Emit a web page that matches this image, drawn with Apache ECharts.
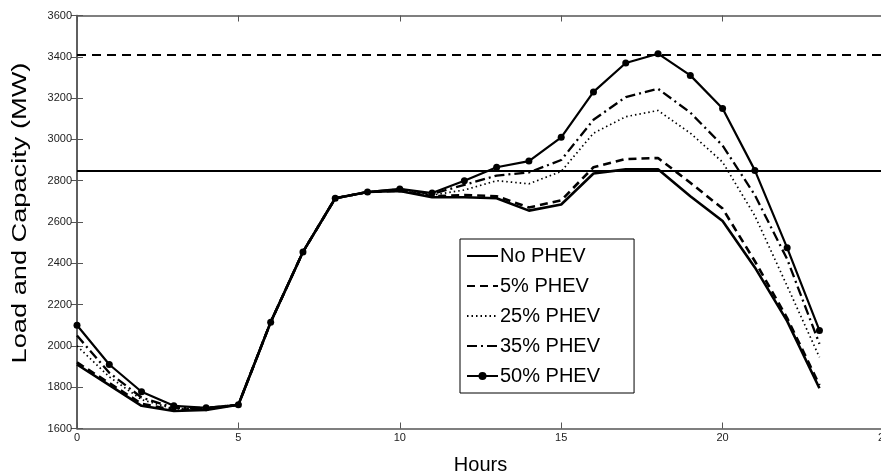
<!DOCTYPE html>
<html><head><meta charset="utf-8">
<script src="https://cdn.jsdelivr.net/npm/echarts@6/dist/echarts.min.js"></script>
<style>html,body{margin:0;padding:0;background:#fff}#c{width:881px;height:475px}</style>
</head><body><div id="c"></div>
<script>
const hours = [0,1,2,3,4,5,6,7,8,9,10,11,12,13,14,15,16,17,18,19,20,21,22,23];
const noPHEV = [1910,1810,1710,1685,1690,1715,2115,2455,2715,2745,2750,2720,2720,2715,2655,2685,2835,2855,2855,2725,2605,2380,2120,1795];
const phev5  = [1920,1820,1720,1690,1695,1715,2115,2455,2715,2745,2752,2725,2730,2725,2670,2705,2865,2905,2910,2790,2665,2410,2135,1810];
const phev25 = [2000,1850,1740,1695,1698,1715,2115,2455,2715,2745,2755,2730,2755,2800,2785,2845,3030,3110,3140,3030,2890,2630,2290,1945];
const phev35 = [2050,1870,1750,1700,1700,1715,2115,2455,2715,2745,2758,2735,2780,2825,2840,2900,3095,3205,3245,3130,2970,2730,2420,2010];
const phev50 = [2100,1910,1778,1710,1700,1715,2115,2455,2715,2745,2760,2740,2800,2865,2895,3010,3230,3370,3415,3310,3150,2850,2475,2075];
const capacitySolid = 2850;
const capacityDashed = 3410;
const seriesNames = ['No PHEV','5% PHEV','25% PHEV','35% PHEV','50% PHEV'];
const xTitle = 'Hours';
const yTitle = 'Load and Capacity (MW)';

const pair = arr => hours.map((h,i)=>[h, arr[i]]);
const tickFont = {fontFamily:'Liberation Sans, Arial, sans-serif', fontSize:11, color:'#222', formatter: v => String(v)};
const axLine = {show:true, lineStyle:{color:'#555', width:1.5}};
const tick = {show:true, inside:true, length:6, lineStyle:{color:'#555', width:1}};
const chart = echarts.init(document.getElementById('c'));
chart.setOption({
  animation:false,
  backgroundColor:'#fff',
  grid:{left:77, right:-3, top:15.5, bottom:46.5, containLabel:false, outerBoundsMode:'none'},
  xAxis:[
    {type:'value', min:0, max:25, interval:5, position:'bottom',
     name:xTitle, nameLocation:'middle', nameGap:27,
     nameTextStyle:{fontFamily:'Liberation Sans, Arial, sans-serif', fontSize:20, color:'#000'},
     axisLine:axLine, axisTick:tick,
     axisLabel:Object.assign({margin:4}, tickFont), splitLine:{show:false}},
    {type:'value', min:0, max:25, interval:5, position:'top',
     axisLine:axLine, axisTick:tick, axisLabel:{show:false}, splitLine:{show:false}}
  ],
  yAxis:[
    {type:'value', min:1600, max:3600, interval:200, position:'left',
     axisLine:axLine, axisTick:tick,
     axisLabel:Object.assign({margin:5}, tickFont), splitLine:{show:false}},
    {type:'value', min:1600, max:3600, interval:200, position:'right',
     axisLine:axLine, axisTick:tick, axisLabel:{show:false}, splitLine:{show:false}}
  ],
  graphic:[
    {type:'text', x:20, y:213, rotation:Math.PI/2, scaleX:1.36, silent:true,
     style:{text:yTitle, fontFamily:'Liberation Sans, Arial, sans-serif', fontSize:20,
            fill:'#000', align:'center', verticalAlign:'middle'}}
  ],
  legend:{
    orient:'vertical', left:460, top:239,
    data:seriesNames.map((n,i)=> i<4 ? {name:n, itemStyle:{opacity:0}} : {name:n}),
    backgroundColor:'#fff', borderColor:'#000', borderWidth:1,
    padding:[6,34,6,6], itemWidth:31, itemHeight:10, itemGap:8,
    textStyle:{fontFamily:'Liberation Sans, Arial, sans-serif', fontSize:20, lineHeight:22, color:'#000', padding:[0,0,0,-3]}
  },
  series:[
    {name:'No PHEV', type:'line', data:pair(noPHEV), symbol:'none', itemStyle:{color:'#000'},
     lineStyle:{color:'#000', width:2.6, type:'solid'}, z:3},
    {name:'5% PHEV', type:'line', data:pair(phev5), symbol:'none', itemStyle:{color:'#000'},
     lineStyle:{color:'#000', width:2.6, type:[8,5]}, z:3},
    {name:'25% PHEV', type:'line', data:pair(phev25), symbol:'none', itemStyle:{color:'#000'},
     lineStyle:{color:'#000', width:1.7, type:[1.5,3]}, z:3},
    {name:'35% PHEV', type:'line', data:pair(phev35), symbol:'none', itemStyle:{color:'#000'},
     lineStyle:{color:'#000', width:2.3, type:[10,4,2,4]}, z:3},
    {name:'50% PHEV', type:'line', data:pair(phev50), symbol:'circle', symbolSize:7,
     itemStyle:{color:'#000'}, lineStyle:{color:'#000', width:2.2, type:'solid'}, z:4},
    {type:'line', data:[], symbol:'none', silent:true,
     markLine:{silent:true, symbol:['none','none'], label:{show:false},
       data:[
         {yAxis:capacitySolid, lineStyle:{color:'#000', width:1.8, type:'solid'}},
         {yAxis:capacityDashed, lineStyle:{color:'#000', width:2, type:[9,6]}}
       ]}}
  ]
});
</script></body></html>
